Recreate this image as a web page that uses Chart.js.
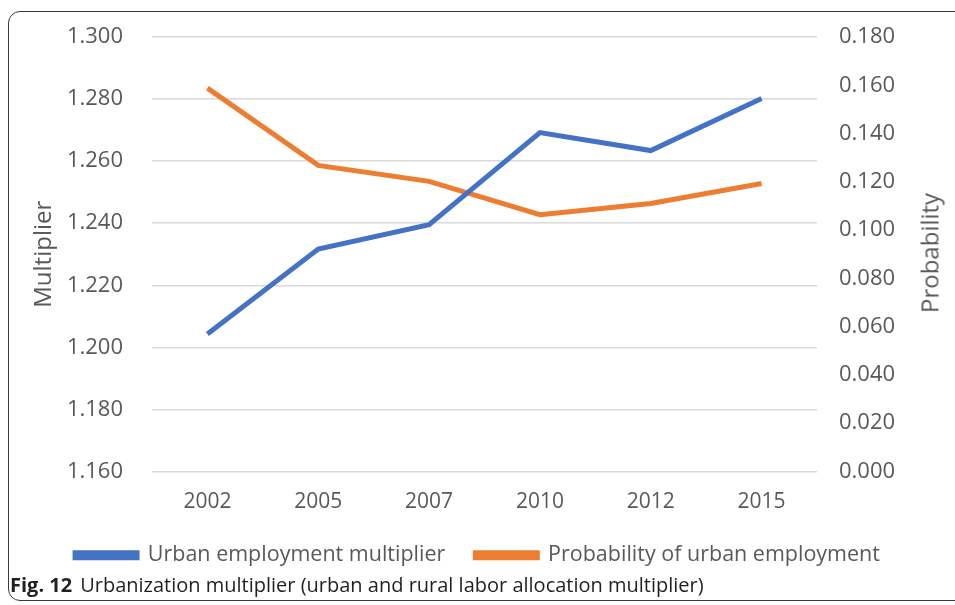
<!DOCTYPE html>
<html>
<head>
<meta charset="utf-8">
<script src="https://cdn.jsdelivr.net/npm/chart.js@4"></script>
<style>
  html, body { margin: 0; padding: 0; background: #fff; }
  body { width: 955px; height: 605px; position: relative; overflow: hidden; }
  #frame {
    position: absolute; left: 8px; top: 11px; width: 1000px; height: 590px;
    border: 1.5px solid #3a3a3a; border-radius: 12px; box-sizing: border-box;
  }
  #wrap { position: absolute; left: 0; top: 0; width: 955px; height: 581px; }
  #rtitle {
    position: absolute; left: 929px; top: 253px; transform: translate(-50%, -50%) rotate(-90deg);
    font-family: "Open Sans", sans-serif; font-size: 24px; color: #595959; white-space: nowrap;
  }
  #caption {
    position: absolute; left: 10px; top: 571px; font-family: "Open Sans", sans-serif;
    font-size: 20px; color: #231f20; white-space: nowrap;
  }
  #caption b { font-weight: 700; margin-right: 8px; }
</style>
</head>
<body>
<div id="frame"></div>
<div id="wrap"><canvas id="chart"></canvas></div>
<div id="rtitle">Probability</div>
<div id="caption"><b>Fig. 12</b>Urbanization multiplier (urban and rural labor allocation multiplier)</div>
<script>
const years = ["2002", "2005", "2007", "2010", "2012", "2015"];
const multiplier = [1.2043, 1.2317, 1.2395, 1.2692, 1.2634, 1.2802];
const probability = [0.1588, 0.1268, 0.1202, 0.1064, 0.1110, 0.1193];
const leftTicks = [1.16, 1.18, 1.20, 1.22, 1.24, 1.26, 1.28, 1.30];
const rightTicks = [0, 0.02, 0.04, 0.06, 0.08, 0.10, 0.12, 0.14, 0.16, 0.18];

const font = "'Open Sans', sans-serif";
const grey = "#595959";

new Chart(document.getElementById("chart").getContext("2d"), {
  type: "line",
  data: {
    labels: years,
    datasets: [
      {
        label: "Urban employment multiplier",
        data: multiplier,
        yAxisID: "y",
        borderColor: "#4472C4",
        backgroundColor: "#4472C4",
        borderWidth: 5,
        pointRadius: 0,
        tension: 0
      },
      {
        label: "Probability of urban employment",
        data: probability,
        yAxisID: "y1",
        borderColor: "#ED7D31",
        backgroundColor: "#ED7D31",
        borderWidth: 5,
        pointRadius: 0,
        tension: 0
      }
    ]
  },
  options: {
    responsive: true,
    maintainAspectRatio: false,
    animation: false,
    layout: { padding: { top: 37, bottom: 5, left: 0, right: 0 } },
    plugins: {
      tooltip: { enabled: false },
      legend: {
        position: "bottom",
        labels: {
          font: { family: font, size: 21.5 },
          color: grey,
          boxWidth: 62,
          boxHeight: 5,
          padding: 30
        }
      }
    },
    scales: {
      x: {
        offset: true,
        grid: { display: false, drawTicks: false },
        border: { display: false },
        ticks: { font: { family: font, size: 21 }, color: grey, padding: 18 },
        afterFit: (s) => { s.height = 43; }
      },
      y: {
        position: "left",
        min: 1.16,
        max: 1.30,
        afterBuildTicks: (s) => { s.ticks = leftTicks.map(v => ({ value: v })); },
        grid: { color: "#d9d9d9", lineWidth: 1.5, drawTicks: false },
        border: { display: false },
        ticks: {
          font: { family: font, size: 22 }, color: grey, padding: 29,
          callback: (v) => v.toFixed(3)
        },
        title: {
          display: true, text: "Multiplier",
          font: { family: font, size: 24 }, color: grey,
          padding: { top: 30, bottom: 0 }
        },
        afterFit: (s) => { s.width = 152; s.paddingTop = 10; s.paddingBottom = 10; }
      },
      y1: {
        position: "right",
        min: 0,
        max: 0.18,
        afterBuildTicks: (s) => { s.ticks = rightTicks.map(v => ({ value: v })); },
        grid: { display: false, drawTicks: false },
        border: { display: false },
        ticks: {
          font: { family: font, size: 22 }, color: grey, padding: 22,
          callback: (v) => v.toFixed(3)
        },
        afterFit: (s) => { s.width = 138; s.paddingTop = 10; s.paddingBottom = 10; }
      }
    }
  }
});
</script>
</body>
</html>
